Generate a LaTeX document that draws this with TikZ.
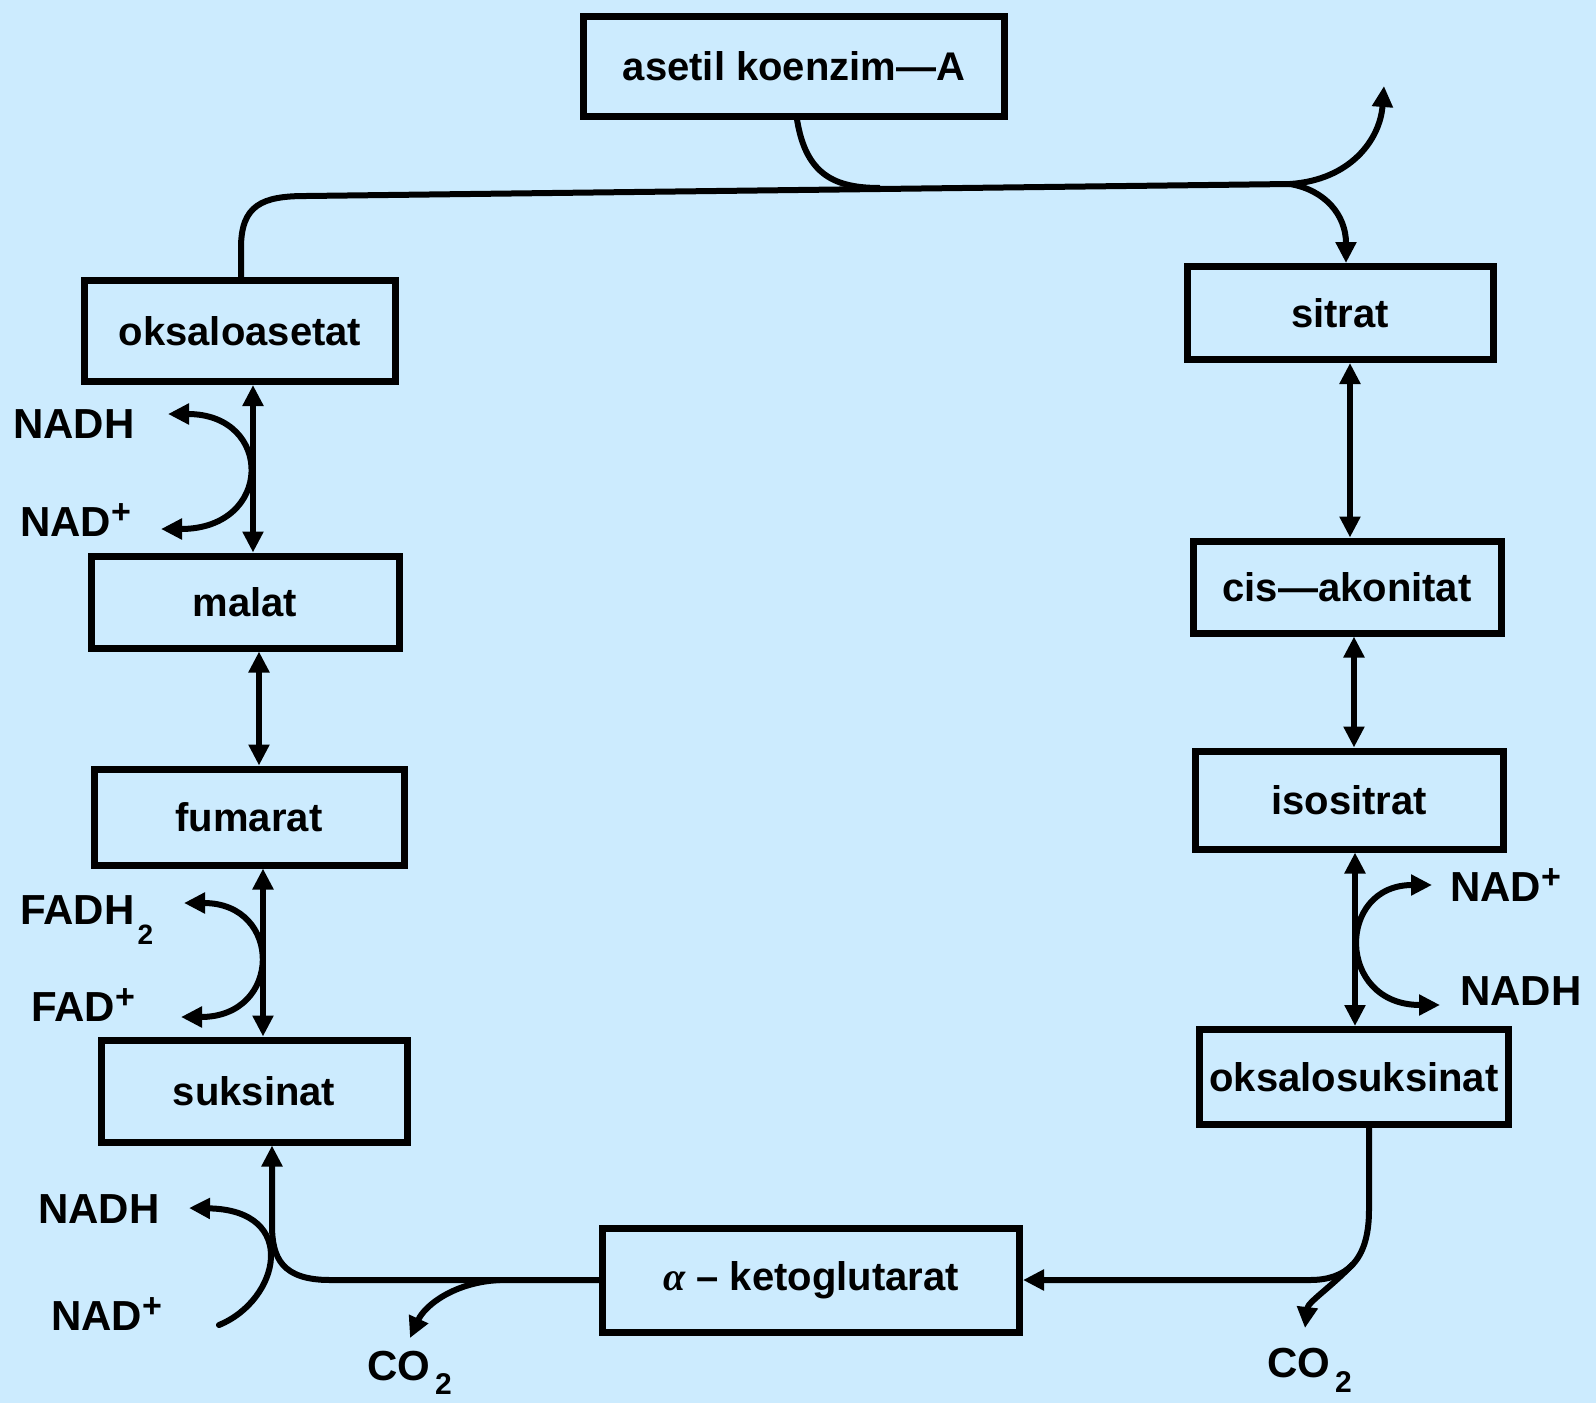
\documentclass[tikz,border=0pt]{standalone}
\usepackage{fontspec}
\setmainfont{Liberation Sans}
\newfontfamily\greekserif{Liberation Serif}
\usetikzlibrary{arrows.meta}
\definecolor{paper}{RGB}{204,235,254}
% raised plus of NAD+ / FAD+
\newcommand{\supplus}{\raisebox{13pt}{\fontsize{34}{34}\selectfont +}}
% lowered index 2
\newcommand{\lowtwo}[3]{\kern#1\raisebox{#2}{\fontsize{#3}{#3}\selectfont 2}}

\begin{document}
\begin{tikzpicture}[x=1pt,y=-1pt,
  >={Triangle[length=21pt,width=20pt]},
  box/.style={draw, line width=7pt, inner sep=0pt,
    font=\bfseries\fontsize{40}{48}\selectfont},
  lbl/.style={inner sep=0pt, anchor=base west,
    font=\bfseries\fontsize{42}{48}\selectfont},
  flow/.style={line width=6pt},
]
\fill[paper] (0,0) rectangle (1596,1403);
\useasboundingbox (0,0) rectangle (1596,1403);

% ---- metabolites ----
\node[box, minimum width=421pt, minimum height=100pt] (acoa)   at (794,66)    {asetil koenzim—A};
\node[box, minimum width=306pt, minimum height=93pt]  (sitrat) at (1340,313)  {sitrat};
\node[box, minimum width=308pt, minimum height=92pt]  (cis)    at (1347,587)  {cis—akonitat};
\node[box, minimum width=308pt, minimum height=98pt]  (iso)    at (1349,800)  {isositrat};
\node[box, minimum width=309pt, minimum height=95pt]  (oksuk)  at (1354,1077) {oksalosuksinat};
\node[box, minimum width=417pt, minimum height=104pt] (aketo)  at (811,1280)  {{\greekserif\itshape α} – ketoglutarat};
\node[box, minimum width=306pt, minimum height=102pt] (suks)   at (254,1091)  {suksinat};
\node[box, minimum width=310pt, minimum height=96pt]  (fum)    at (249,817)   {fumarat};
\node[box, minimum width=308pt, minimum height=92pt]  (malat)  at (245,602)   {malat};
\node[box, minimum width=311pt, minimum height=101pt] (oksas)  at (240,331)   {oksaloasetat};

% ---- columns of the reversible steps ----
\coordinate (xR1) at (1350,0);
\coordinate (xR2) at (1354,0);
\coordinate (xR3) at (1355,0);
\coordinate (xL1) at (253,0);
\coordinate (xL2) at (259,0);
\coordinate (xL3) at (263,0);
\coordinate (xTop) at (241,0);
\coordinate (xA) at (797,0);
\coordinate (xO) at (1369,0);
\coordinate (xS) at (272,0);
\coordinate (xC) at (1346,0);

\draw[flow,<->] (sitrat.south -| xR1) -- (cis.north -| xR1);
\draw[flow,<->] (cis.south -| xR2) -- (iso.north -| xR2);
\draw[flow,<->] (iso.south -| xR3) -- (oksuk.north -| xR3);
\draw[flow,<->] (oksas.south -| xL1) -- (malat.north -| xL1);
\draw[flow,<->] (malat.south -| xL2) -- (fum.north -| xL2);
\draw[flow,<->] (fum.south -| xL3) -- (suks.north -| xL3);

% ---- condensation at the top ----
\coordinate (J) at (1290,184);
\coordinate (aJoin) at (880,188);
\coordinate (outUp) at (1384,86);
\draw[flow] (oksas.north -| xTop) -- (241,248)
  .. controls (241,205) and (262,196) .. (306,196) -- (J);
\draw[flow] (acoa.south -| xA) .. controls (806,176) and (836,188) .. (aJoin);
\draw[flow,->] (J) .. controls (1350,180) and (1380,140) .. (outUp);
\draw[flow,->] (J) .. controls (1325,190) and (1346,215) .. (sitrat.north -| xC);

% ---- decarboxylations ----
\coordinate (bR) at (1353,1264);
\coordinate (bL) at (500,1280);
\coordinate (co2R) at (1305,1328);
\coordinate (co2L) at (410,1338);
\draw[flow,->] (oksuk.south -| xO) -- (1369,1210)
  .. controls (1369,1262) and (1345,1280) .. (1310,1280) -- (aketo.east);
\draw[flow,->] (bR) .. controls (1330,1288) and (1308,1302) .. (co2R);
\draw[flow,->] (aketo.west) -- (330,1280)
  .. controls (282,1280) and (272,1258) .. (272,1225) -- (suks.south -| xS);
\draw[flow,->] (bL) .. controls (455,1282) and (425,1305) .. (co2L);

% ---- coenzyme side arrows ----
\coordinate (nadhA) at (168,414);
\coordinate (nadA) at (161,529);
\coordinate (fadhB) at (184,903);
\coordinate (fadB) at (181,1017);
\coordinate (nadC) at (1432,885);
\coordinate (nadhC) at (1440,1005);
\coordinate (nadD) at (219,1325);
\coordinate (nadhD) at (189,1208);
\draw[flow,<->] (nadhA) .. controls (274,414) and (274,529) .. (nadA);
\draw[flow,<->] (fadhB) .. controls (283,903) and (283,1017) .. (fadB);
\draw[flow,<->] (nadC) .. controls (1336,885) and (1336,1005) .. (nadhC);
\draw[flow,->,line cap=round] (nadD) .. controls (280,1300) and (300,1210) .. (nadhD);

% ---- labels ----
\node[lbl] (tNADHa) at (13,438)    {NADH};
\node[lbl] (tNADa)  at (20,536)    {NAD\supplus};
\node[lbl] (tFADH)  at (20,924)    {FADH\lowtwo{3pt}{-20pt}{28}};
\node[lbl] (tFAD)   at (31,1021)   {FAD\supplus};
\node[lbl] (tNADHd) at (38,1223)   {NADH};
\node[lbl] (tNADd)  at (51,1330)   {NAD\supplus};
\node[lbl] (tNADc)  at (1450,901)  {NAD\supplus};
\node[lbl] (tNADHc) at (1460,1005) {NADH};
\node[lbl] (tCO2L)  at (367,1380)  {CO\lowtwo{5pt}{-14pt}{30}};
\node[lbl] (tCO2R)  at (1267,1377) {CO\lowtwo{5pt}{-15pt}{30}};
\end{tikzpicture}
\end{document}
